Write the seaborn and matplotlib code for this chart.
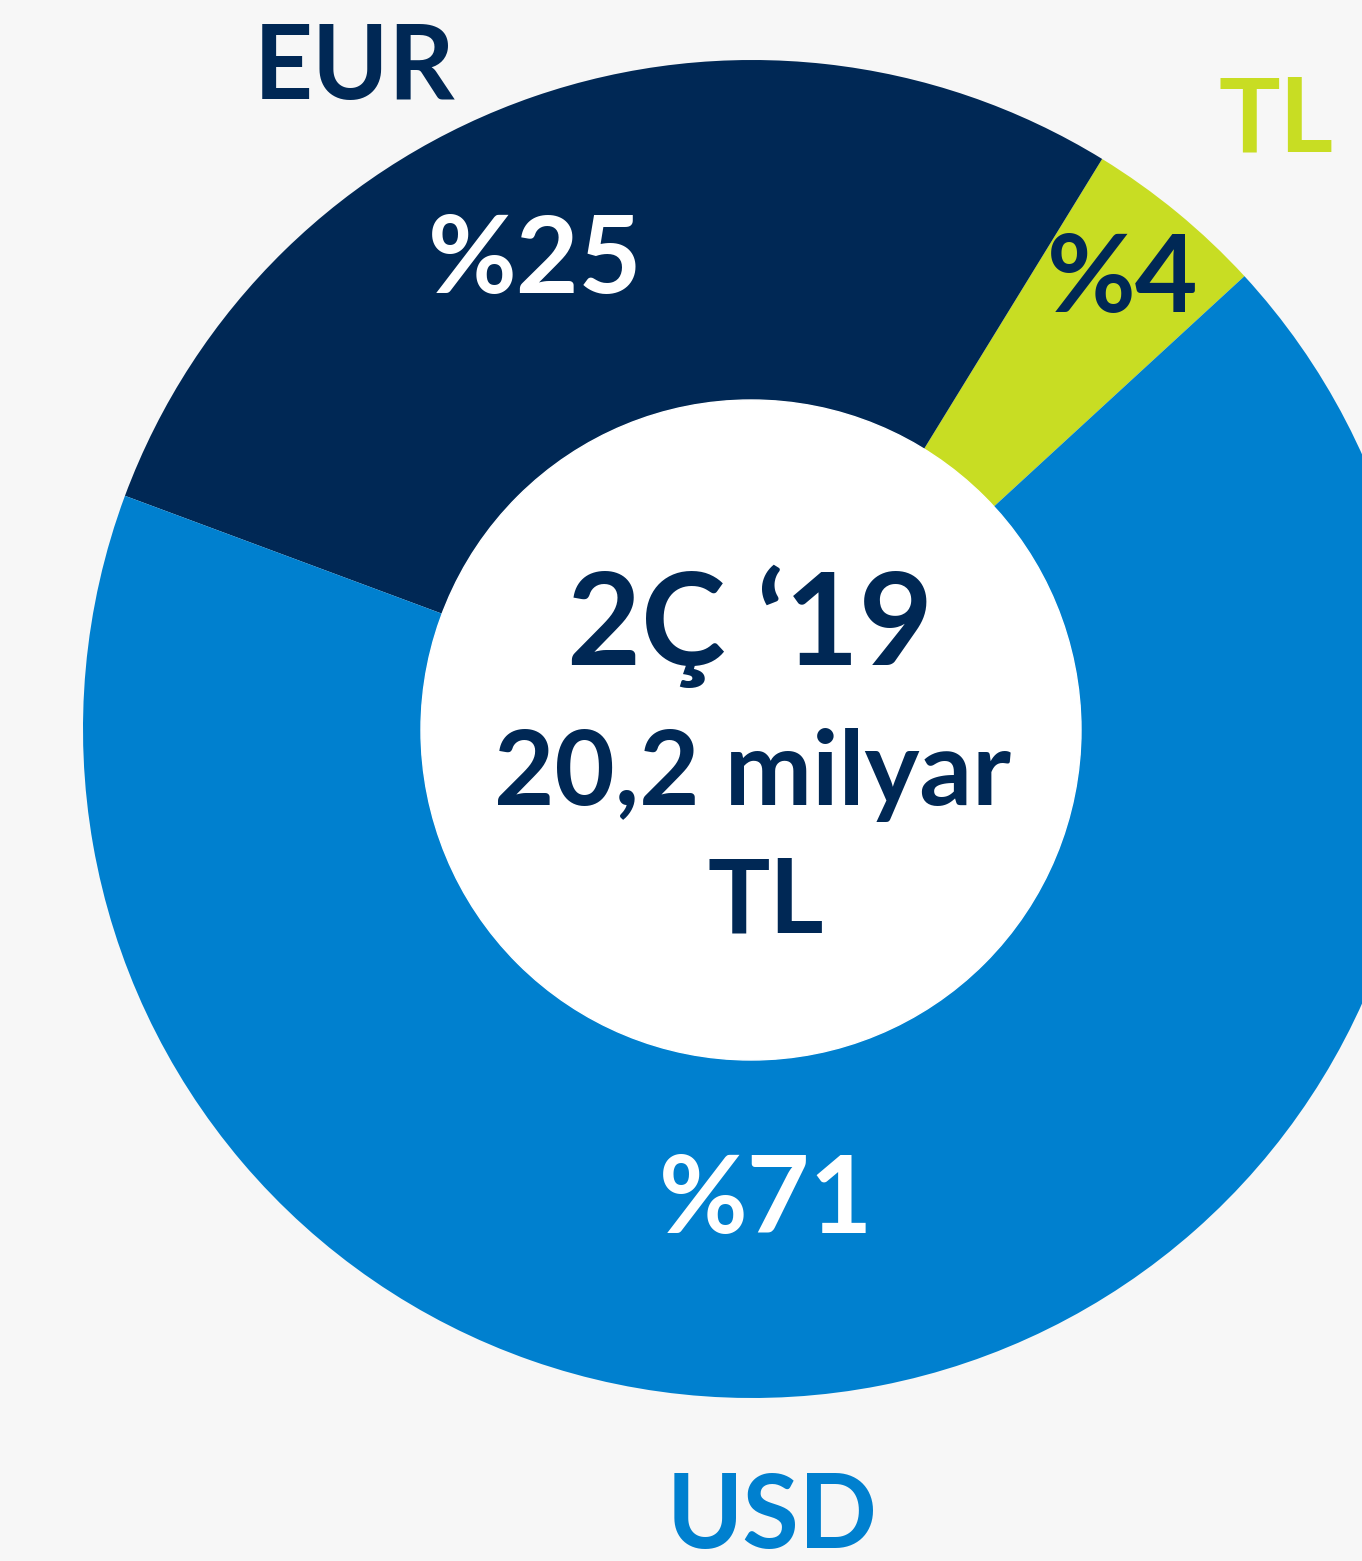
import seaborn as sns
import matplotlib.pyplot as plt
from matplotlib.patches import Circle

# Dağılım (dilim payları görselden ölçüldü, etiketler görseldeki metin)
currencies = ['TL', 'EUR', 'USD']
shares = [4.4, 28.1, 67.5]
share_labels = ['%4', '%25', '%71']
center_lines = ['2Ç ‘19', '20,2 milyar', 'TL']

palette = {'TL': '#C8DD23', 'EUR': '#002855', 'USD': '#0080CF'}
label_colors = {'TL': '#002855', 'EUR': 'white', 'USD': 'white'}

sns.set_theme(style='white')
plt.rcParams['font.family'] = ['Lato', 'DejaVu Sans']

W, H = 1362, 1561
fig = plt.figure(figsize=(W / 100, H / 100), dpi=100)
fig.patch.set_facecolor('#F7F7F7')
ax = fig.add_axes([0, 0, 1, 1])

ax.pie(shares, colors=[palette[c] for c in currencies], startangle=42.6,
       center=(752, H - 729), radius=669, wedgeprops=dict(linewidth=0))
ax.add_patch(Circle((751, H - 730), 330, color='white', zorder=3))

ax.set_xlim(0, W)
ax.set_ylim(0, H)
ax.axis('off')

# para birimi adları
name_pos = {'EUR': (355, 99), 'TL': (1276, 151), 'USD': (772, 1548)}
for c in currencies:
    x, y = name_pos[c]
    ax.text(x, H - y, c, color=palette[c], fontsize=74, fontweight='bold',
            ha='center', va='baseline', zorder=4)

# yüzde etiketleri
pct_pos = {'TL': (1123, 312), 'EUR': (535, 293), 'USD': (766, 1233)}
for c, lab in zip(currencies, share_labels):
    x, y = pct_pos[c]
    ax.text(x, H - y, lab, color=label_colors[c], fontsize=78, fontweight='bold',
            ha='center', va='baseline', zorder=4)

# orta metin
ax.text(750, H - 665, center_lines[0], color='#002855', fontsize=92,
        fontweight='bold', ha='center', va='baseline', zorder=4)
ax.text(752, H - 805, center_lines[1], color='#002855', fontsize=75,
        fontweight='bold', ha='center', va='baseline', zorder=4)
ax.text(766, H - 932, center_lines[2], color='#002855', fontsize=75,
        fontweight='bold', ha='center', va='baseline', zorder=4)

fig.savefig('out.png', dpi=100, facecolor=fig.get_facecolor())
